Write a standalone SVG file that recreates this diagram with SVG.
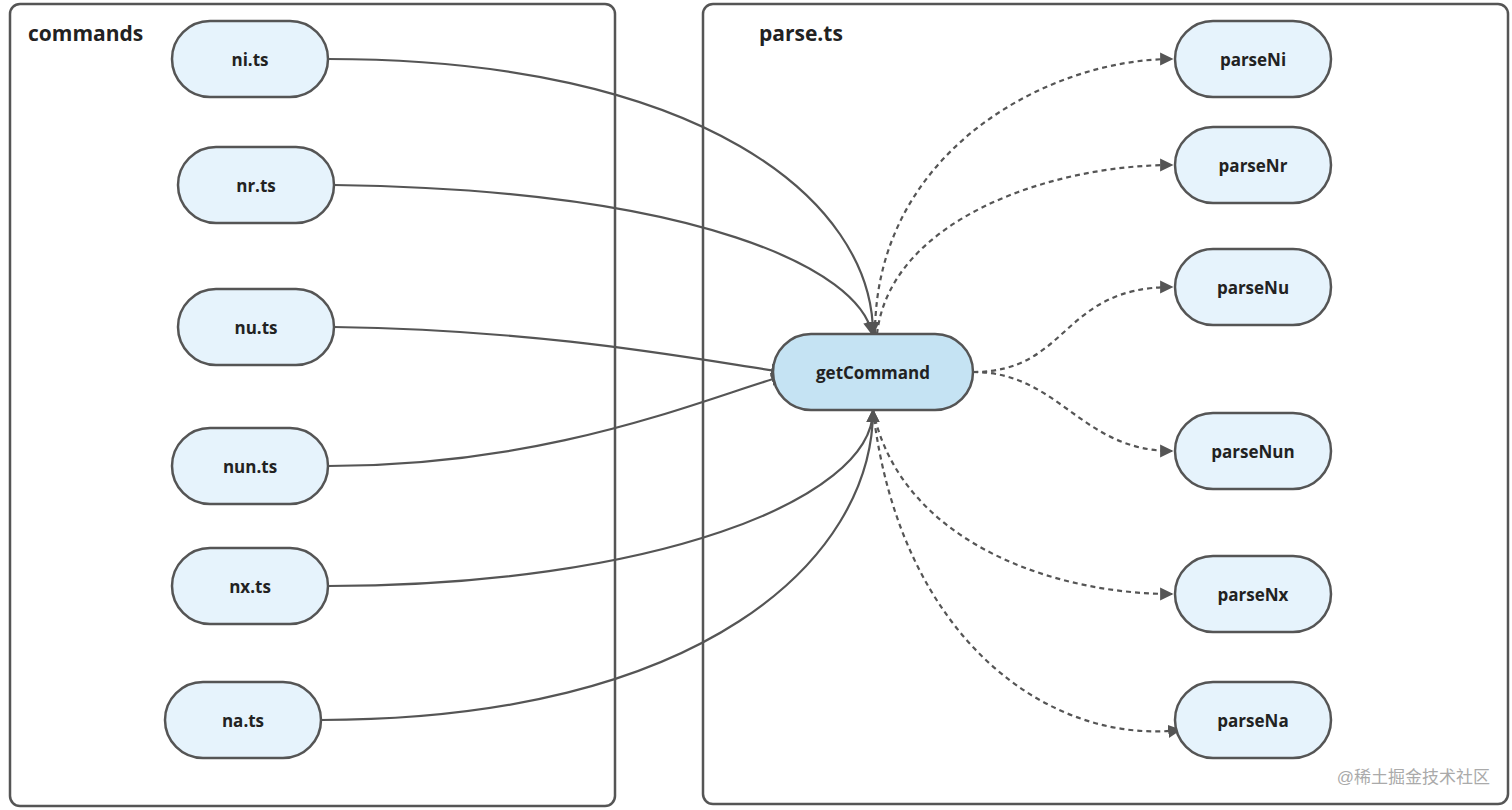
<svg xmlns="http://www.w3.org/2000/svg" width="1512" height="810" viewBox="0 0 1512 810">
<style>
.c{fill:#fff;stroke:#555;stroke-width:2.5}
.n{fill:#e6f3fc;stroke:#555;stroke-width:2.5}
.t{font-family:"Open Sans","Liberation Sans",sans-serif;font-weight:bold;font-size:17px;fill:#222;text-anchor:middle;dominant-baseline:central}
.h{font-family:"Open Sans","Liberation Sans",sans-serif;font-weight:bold;font-size:21px;fill:#222}
.e{fill:none;stroke:#555;stroke-width:2.2}
.d{fill:none;stroke:#555;stroke-width:2.2;stroke-dasharray:5 4}
</style>
<defs><marker id="a" viewBox="0 0 10 10" refX="9" refY="5" markerWidth="6" markerHeight="6" orient="auto" markerUnits="strokeWidth"><path d="M0,0 L10,5 L0,10 z" fill="#555"/></marker></defs>
<rect width="1512" height="810" fill="#fff"/>
<g id="commands"><rect class="c" x="10" y="4" width="605" height="802" rx="10"/><text class="h" x="28" y="41">commands</text></g>
<g id="parse"><rect class="c" x="703" y="4" width="805" height="800" rx="10"/><text class="h" x="759" y="41">parse.ts</text></g>
<g id="connectors">
<path class="e" marker-end="url(#a)" d="M328,59 C700,59 873,200 873,334"/>
<path class="e" marker-end="url(#a)" d="M334,185 C700,190 860,270 872,334"/>
<path class="e" marker-end="url(#a)" d="M334,327 C550,330 700,360 783,372"/>
<path class="e" marker-end="url(#a)" d="M328,466 C550,466 700,400 783,376"/>
<path class="e" marker-end="url(#a)" d="M328,586 C650,586 873,500 873,410"/>
<path class="e" marker-end="url(#a)" d="M321,720 C700,720 873,560 873,410"/>
<path class="d" marker-end="url(#a)" d="M875,334 C875,150 1050,59 1172,59"/>
<path class="d" marker-end="url(#a)" d="M877,334 C890,220 1050,165 1172,165"/>
<path class="d" marker-end="url(#a)" d="M973,372 C1070,372 1060,287 1172,287"/>
<path class="d" marker-end="url(#a)" d="M973,372 C1060,372 1080,451 1172,451"/>
<path class="d" marker-end="url(#a)" d="M873,410 C900,540 1050,594 1172,594"/>
<path class="d" marker-end="url(#a)" d="M873,410 C900,640 1050,745 1180,730"/>
</g>
<g id="ni"><rect class="n" x="172" y="21" width="156" height="76" rx="38"/><text class="t" x="250" y="59">ni.ts</text></g>
<g id="nr"><rect class="n" x="178" y="147" width="156" height="76" rx="38"/><text class="t" x="256" y="185">nr.ts</text></g>
<g id="nu"><rect class="n" x="178" y="289" width="156" height="76" rx="38"/><text class="t" x="256" y="327">nu.ts</text></g>
<g id="nun"><rect class="n" x="172" y="428" width="156" height="76" rx="38"/><text class="t" x="250" y="466">nun.ts</text></g>
<g id="nx"><rect class="n" x="172" y="548" width="156" height="76" rx="38"/><text class="t" x="250" y="586">nx.ts</text></g>
<g id="na"><rect class="n" x="165" y="682" width="156" height="76" rx="38"/><text class="t" x="243" y="720">na.ts</text></g>
<g id="getCommand"><rect class="n" style="fill:#c5e3f3" x="773" y="334" width="200" height="76" rx="38"/><text class="t" x="873" y="372">getCommand</text></g>
<g id="parseNi"><rect class="n" x="1175" y="21" width="156" height="76" rx="38"/><text class="t" x="1253" y="59">parseNi</text></g>
<g id="parseNr"><rect class="n" x="1175" y="127" width="156" height="76" rx="38"/><text class="t" x="1253" y="165">parseNr</text></g>
<g id="parseNu"><rect class="n" x="1175" y="249" width="156" height="76" rx="38"/><text class="t" x="1253" y="287">parseNu</text></g>
<g id="parseNun"><rect class="n" x="1175" y="413" width="156" height="76" rx="38"/><text class="t" x="1253" y="451">parseNun</text></g>
<g id="parseNx"><rect class="n" x="1175" y="556" width="156" height="76" rx="38"/><text class="t" x="1253" y="594">parseNx</text></g>
<g id="parseNa"><rect class="n" x="1175" y="682" width="156" height="76" rx="38"/><text class="t" x="1253" y="720">parseNa</text></g>
<text x="1490" y="783" text-anchor="end" style="font-family:'Liberation Sans','Noto Sans CJK SC',sans-serif;font-size:17px;fill:#aaa">@稀土掘金技术社区</text>
</svg>
